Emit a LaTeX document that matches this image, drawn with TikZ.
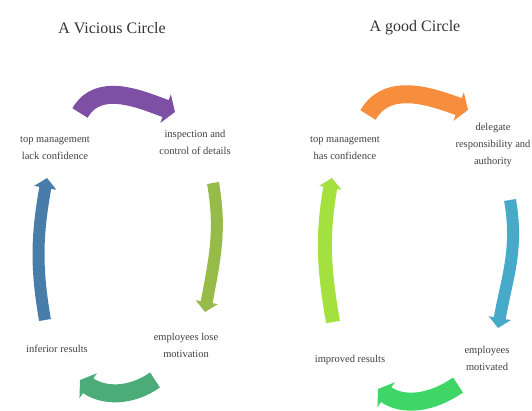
\documentclass[tikz,border=0pt]{standalone}
\usepackage{fontspec}
\setmainfont{Liberation Serif}
\usetikzlibrary{arrows.meta}

\definecolor{vpurple}{RGB}{125,80,165}
\definecolor{volive}{RGB}{150,187,72}
\definecolor{vsea}{RGB}{75,172,122}
\definecolor{vsteel}{RGB}{72,125,170}
\definecolor{gorange}{RGB}{246,142,62}
\definecolor{gcyan}{RGB}{70,170,200}
\definecolor{ggreen}{RGB}{62,214,102}
\definecolor{glime}{RGB}{165,225,62}

\begin{document}
\begin{tikzpicture}[x=1pt, y=1pt,
    ttl/.style={font=\fontsize{16}{18}\selectfont, text=black!80},
    lbl/.style={font=\fontsize{10.5}{17}\selectfont, text=black!75, align=center, inner sep=1pt},
    wide/.style={line width=18pt, -{Triangle[width=30pt, length=10pt]}},
    slim/.style={line width=12pt, -{Triangle[width=22pt, length=10pt]}}]
  \useasboundingbox (0,0) rectangle (532,411);
  % ---------------- left: a vicious circle ----------------
  \node[ttl] (vtitle) at (112,383) {A Vicious Circle};
  \node[lbl] (vtl) at (55,263) {top management\\lack confidence};
  \node[lbl] (vtr) at (195,269) {inspection and\\control of details};
  \node[lbl] (vbr) at (186,66) {employees lose\\motivation};
  \node[lbl] (vbl) at (57,62) {inferior results};
  \coordinate (v1) at (80,298);  \coordinate (v2) at (175,299);
  \coordinate (v3) at (213,228); \coordinate (v4) at (205,99);
  \coordinate (v5) at (155,31);  \coordinate (v6) at (80,31);
  \coordinate (v7) at (45,91);   \coordinate (v8) at (47,233);
  \draw[wide, vpurple] (v1) to[out=60, in=160] (v2);
  \draw[slim, volive] (v3) to[out=-80, in=80] (v4);
  \draw[wide, vsea] (v5) to[out=-145, in=-35] (v6);
  \draw[slim, vsteel] (v7) to[out=100, in=-100] (v8);
  % ---------------- right: a good circle ----------------
  \node[ttl] (gtitle) at (415,383) {A good Circle};
  \node[lbl] (gtl) at (345,263) {top management\\has confidence};
  \node[lbl] (gtr) at (493,266) {delegate\\responsibility and\\authority};
  \node[lbl] (gbr) at (487,53) {employees\\motivated};
  \node[lbl] (gbl) at (350,51) {improved results};
  \coordinate (g1) at (368,296); \coordinate (g2) at (468,301);
  \coordinate (g3) at (510,211); \coordinate (g4) at (498,83);
  \coordinate (g5) at (458,26);  \coordinate (g6) at (378,22);
  \coordinate (g7) at (333,89);  \coordinate (g8) at (332,233);
  \draw[wide, gorange] (g1) to[out=60, in=160] (g2);
  \draw[slim, gcyan] (g3) to[out=-80, in=80] (g4);
  \draw[wide, ggreen] (g5) to[out=-145, in=-35] (g6);
  \draw[slim, glime, line width=14pt] (g7) to[out=100, in=-100] (g8);
\end{tikzpicture}
\end{document}
